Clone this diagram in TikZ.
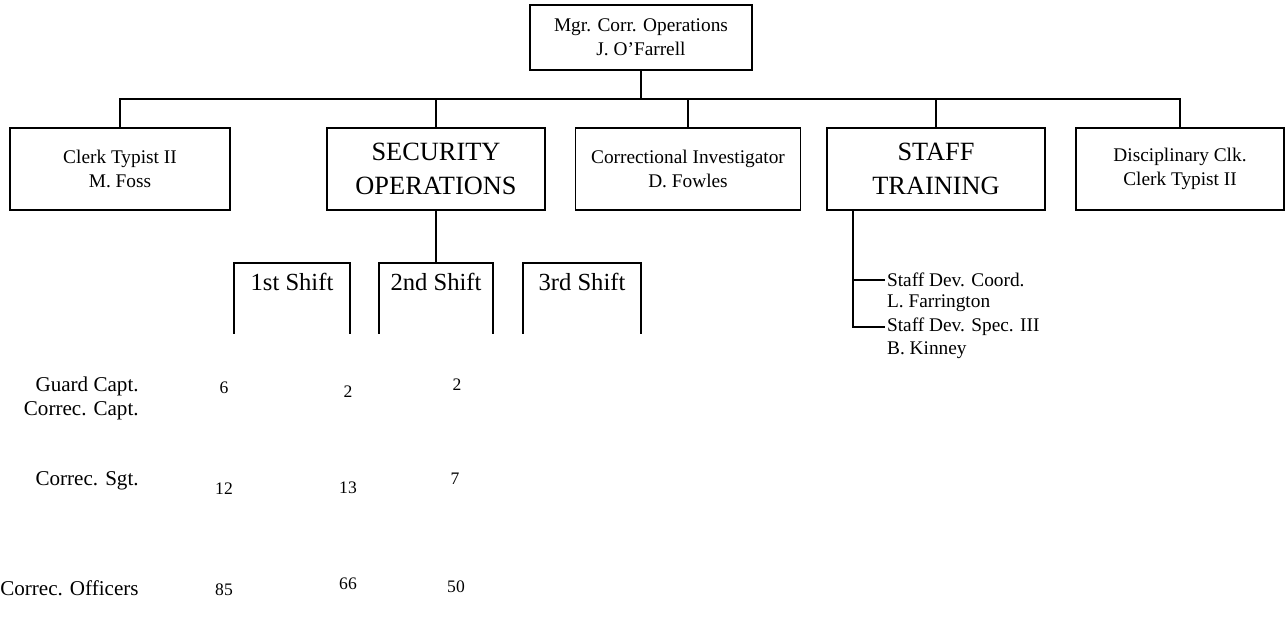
\documentclass[tikz,border=0pt]{standalone}
\usepackage{fontspec}
\setmainfont{Liberation Serif}
\usetikzlibrary{positioning,calc}

\tikzset{
  unitbox/.style={draw, line width=1pt, align=center, inner sep=2pt,
    minimum width=4.4cm, minimum height=1.64cm,
    font=\fontsize{11}{13.5}\selectfont},
  bigbox/.style={unitbox, font=\fontsize{15}{19}\selectfont},
  shiftbox/.style={anchor=north, inner sep=0pt, minimum width=2.3cm,
    text height=0.54cm, text depth=0.86cm,
    font=\fontsize{14}{16}\selectfont},
  rank/.style={anchor=east, inner sep=0pt, font=\fontsize{12}{14}\selectfont},
  count/.style={inner sep=0pt, font=\fontsize{10}{12}\selectfont},
  member/.style={anchor=west, inner sep=1pt, font=\fontsize{11}{13}\selectfont},
  link/.style={line width=1pt}
}

\begin{document}
\begin{tikzpicture}[x=0.02cm, y=-0.02cm]
    \useasboundingbox (0,0) rectangle (1287,629);

    % manager
    \node[unitbox, minimum width=4.44cm, minimum height=1.3cm] (mgr) at (641,37.5)
        {Mgr. Corr. Operations\\J. O'Farrell};

    % second level
    \node[unitbox] (clerk) at (120,169) {Clerk Typist II\\M. Foss};
    \node[bigbox, minimum width=4.36cm] (security) at (436,169) {SECURITY\\OPERATIONS};
    \node[unitbox, minimum width=4.5cm] (investigator) at (688,169)
        {Correctional Investigator\\D. Fowles};
    \node[bigbox, minimum width=4.36cm] (training) at (936,169) {STAFF\\TRAINING};
    \node[unitbox, minimum width=4.16cm] (disc) at (1180,169)
        {Disciplinary Clk.\\Clerk Typist II};

    \coordinate (bus) at ($(mgr.south)+(0,28)$);
    \draw[link] (mgr.south) -- (bus);
    \draw[link] (clerk.north) |- (disc.north |- bus) -- (disc.north);
    \foreach \n in {security,investigator,training}
        \draw[link] (\n.north) -- (\n.north |- bus);

    % shifts
    \node[shiftbox] (s1) at (292,263) {1st Shift};
    \node[shiftbox, minimum width=2.26cm] (s2) at (436,263) {2nd Shift};
    \node[shiftbox, minimum width=2.36cm] (s3) at (582,263) {3rd Shift};
    \foreach \s in {s1,s2,s3}
        \draw[link] (\s.south west) |- (\s.north east) -- (\s.south east);
    \draw[link] (security.south) -- (s2.north);

    % staff training members
    \node[member] (coord) at (885,280) {Staff Dev. Coord.};
    \node[member] (farrington) at (885,303) {L. Farrington};
    \node[member] (spec) at (885,327) {Staff Dev. Spec. III};
    \node[member] (kinney) at (885,350) {B. Kinney};
    \coordinate (tdrop) at ($(training.south west)+(27,0)$);
    \draw[link] (tdrop) |- (coord.west);
    \draw[link] (tdrop) |- (spec.west);

    % staffing per shift
    \node[rank] (guard) at (139,386) {Guard Capt.};
    \node[rank] (capt) at (139,411) {Correc. Capt.};
    \node[rank] (sgt) at (139,481) {Correc. Sgt.};
    \node[rank] (officers) at (139,588) {Correc. Officers};
    \foreach \x/\y/\n in {224/388/6, 348/392/2, 457/385/2,
                          224/489/12, 348/488/13, 455/479/7,
                          224/590/85, 348/584/66, 456/587/50}
        \node[count] (n-\x-\y) at (\x,\y) {\n};
\end{tikzpicture}
\end{document}
